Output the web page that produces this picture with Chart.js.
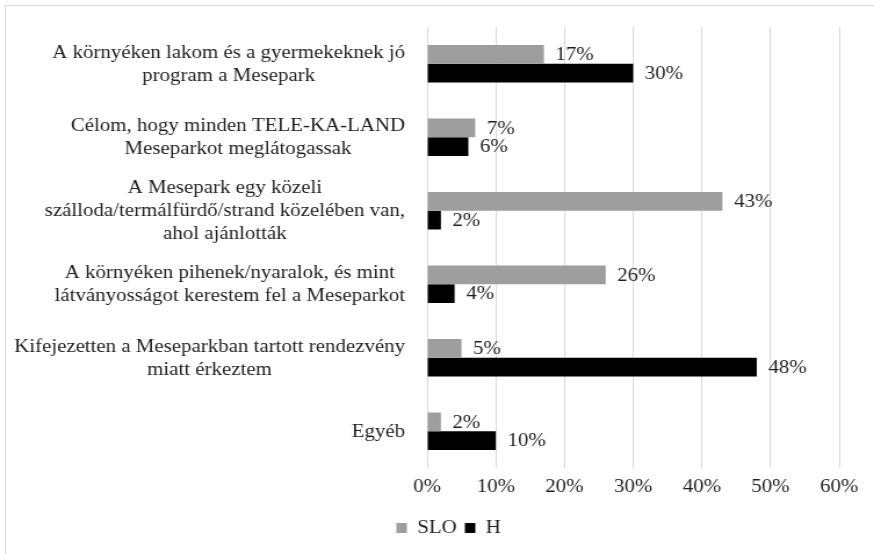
<!DOCTYPE html>
<html>
<head>
<meta charset="utf-8">
<script src="https://cdn.jsdelivr.net/npm/chart.js@4.4.0/dist/chart.umd.min.js"></script>
<style>
  html, body { margin: 0; padding: 0; background: #fff; overflow: hidden; }
  #frame { position: absolute; left: 5px; top: 5px; width: 880px; height: 560px; border: 1px solid #d9d9d9; box-sizing: border-box; }
  /* the original picture is stretched horizontally, so the chart is drawn narrower and widened */
  #wrap { position: absolute; left: 0; top: 0; width: 753px; height: 554px; transform-origin: 0 0; transform: scaleX(1.1607); }
</style>
</head>
<body>
<div id="frame"></div>
<div id="wrap"><canvas id="chart" width="753" height="554"></canvas></div>
<script>
// kategóriák (minden sor külön elem)
const categories = [
    ['A környéken lakom és a gyermekeknek jó', 'program a Mesepark'],
    ['Célom, hogy minden TELE-KA-LAND', 'Meseparkot meglátogassak'],
    ['A Mesepark egy közeli', 'szálloda/termálfürdő/strand közelében van,', 'ahol ajánlották'],
    ['A környéken pihenek/nyaralok, és mint', 'látványosságot kerestem fel a Meseparkot'],
    ['Kifejezetten a Meseparkban tartott rendezvény', 'miatt érkeztem'],
    ['Egyéb']
];
const sloValues = [17, 7, 43, 26, 5, 2];
const hValues = [30, 6, 2, 4, 48, 10];
const xTicks = [0, 10, 20, 30, 40, 50, 60];

const FONT = '"Liberation Serif", "Times New Roman", serif';
const TEXT_COLOR = '#1f1f1f';

// saját címke-rajzoló: a blokk jobbra igazítva, a sorok középre
const categoryLabels = {
    id: 'categoryLabels',
    afterDraw(chart) {
        const ctx = chart.ctx;
        const yScale = chart.scales.y;
        const rightX = chart.chartArea.left - 19;
        const lineH = 23;
        ctx.save();
        ctx.font = '18px ' + FONT;
        ctx.fillStyle = TEXT_COLOR;
        ctx.textAlign = 'center';
        ctx.textBaseline = 'middle';
        categories.forEach((lines, i) => {
            const maxW = Math.max(...lines.map(l => ctx.measureText(l).width));
            const cx = rightX - maxW / 2;
            const cy = yScale.getPixelForValue(i) + 1;
            const startY = cy - (lines.length - 1) * lineH / 2;
            lines.forEach((l, j) => ctx.fillText(l, cx, startY + j * lineH));
        });
        ctx.restore();
    }
};

// értékcímkék a sávok végén
const valueLabels = {
    id: 'valueLabels',
    afterDatasetsDraw(chart) {
        const ctx = chart.ctx;
        ctx.save();
        ctx.font = '18px ' + FONT;
        ctx.fillStyle = TEXT_COLOR;
        ctx.textAlign = 'left';
        ctx.textBaseline = 'middle';
        chart.data.datasets.forEach((ds, di) => {
            const meta = chart.getDatasetMeta(di);
            meta.data.forEach((bar, i) => {
                ctx.fillText(ds.data[i] + '%', bar.x + 10, bar.y + 1);
            });
        });
        ctx.restore();
    }
};

// a jelmagyarázat kicsit jobbra tolva, mint az eredetin
const legendShift = {
    id: 'legendShift',
    afterLayout(chart) {
        if (chart.legend) {
            chart.legend.left += 20;
            chart.legend.right += 20;
        }
    }
};

new Chart(document.getElementById('chart'), {
    type: 'bar',
    data: {
        labels: categories,
        datasets: [
            { label: 'SLO', data: sloValues, backgroundColor: '#9e9e9e' },
            { label: 'H', data: hValues, backgroundColor: '#000000' }
        ]
    },
    options: {
        indexAxis: 'y',
        responsive: false,
        animation: false,
        layout: { padding: { left: 10, right: 30, top: 27, bottom: 7 } },
        datasets: { bar: { categoryPercentage: 0.51, barPercentage: 1.0 } },
        scales: {
            x: {
                min: 0,
                max: 60,
                afterBuildTicks: s => { s.ticks = xTicks.map(v => ({ value: v })); },
                grid: { color: '#d9d9d9', drawTicks: false },
                border: { display: false },
                ticks: {
                    padding: 8,
                    color: TEXT_COLOR,
                    font: { family: FONT, size: 18 },
                    callback: v => v + '%'
                },
                afterFit: s => { s.height = 44; }
            },
            y: {
                grid: { display: false },
                border: { display: false },
                ticks: { display: false },
                afterFit: s => { s.width = 358; }
            }
        },
        plugins: {
            legend: {
                position: 'bottom',
                labels: {
                    boxWidth: 9,
                    boxHeight: 10,
                    padding: 7,
                    color: TEXT_COLOR,
                    font: { family: FONT, size: 18 }
                }
            },
            tooltip: { enabled: false }
        }
    },
    plugins: [categoryLabels, valueLabels, legendShift]
});
</script>
</body>
</html>
